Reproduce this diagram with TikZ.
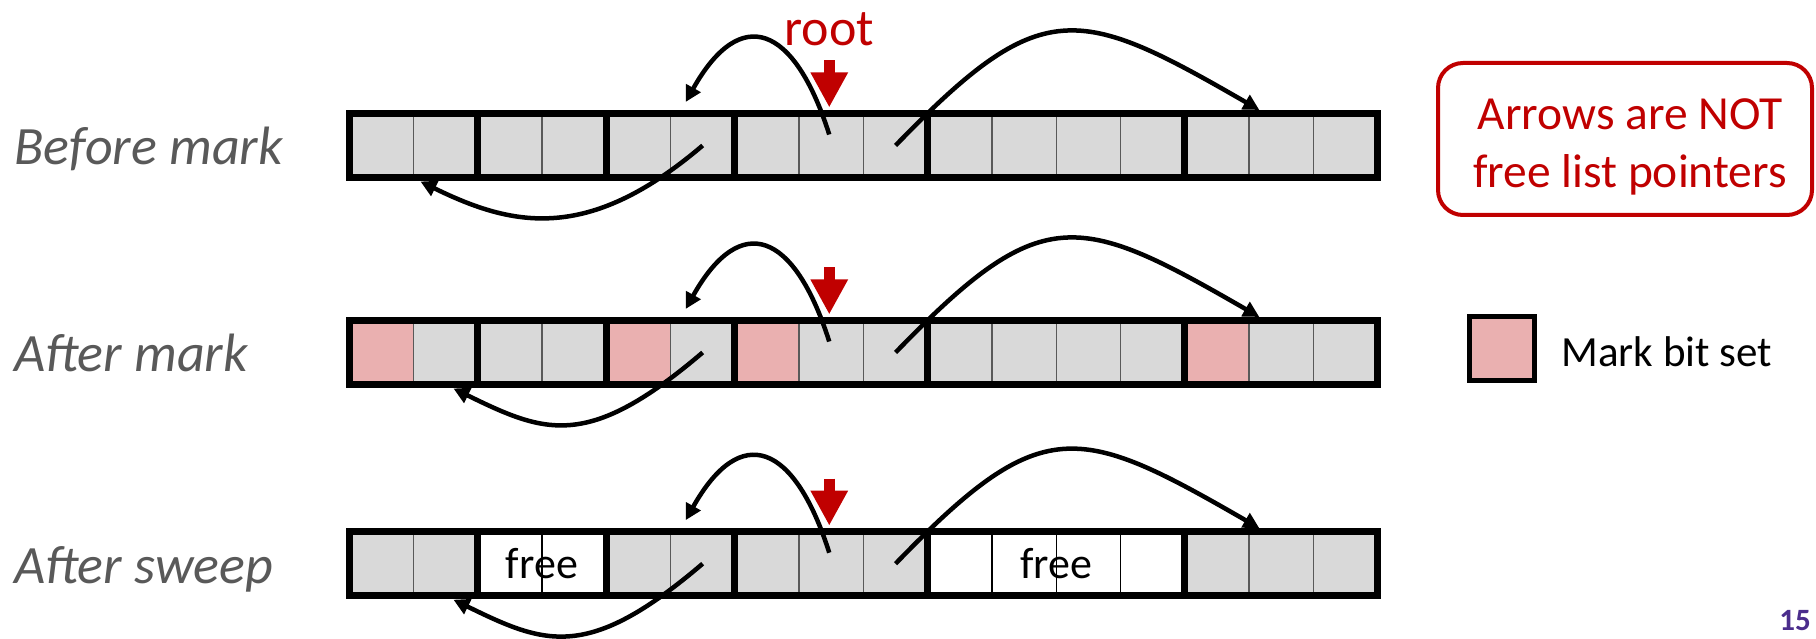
\documentclass[tikz,border=0pt]{standalone}
\usepackage{fontspec}
\setmainfont{Carlito}
\usetikzlibrary{positioning, calc, arrows.meta}

\definecolor{cellgray}{HTML}{D9D9D9}
\definecolor{markpink}{HTML}{EAB0B0}
\definecolor{rootred}{HTML}{C00000}
\definecolor{labelgray}{HTML}{595959}
\definecolor{pagepurple}{RGB}{75,45,140}

\begin{document}
\begin{tikzpicture}[x=1pt, y=1pt,
    cell/.style={draw=black!65, line width=1.5pt, fill=cellgray, minimum width=64.3pt, minimum height=64pt, inner sep=0pt, outer sep=0pt},
    blockline/.style={line width=7pt},
    ptr/.style={line width=4.5pt, -{Triangle[length=16pt, width=16pt]}},
    rootptr/.style={draw=rootred, line width=11.5pt, -{Triangle[length=35pt, width=35pt]}},
    rowlabel/.style={anchor=base west, inner sep=0pt, text=labelgray, font=\fontsize{54}{64}\selectfont\itshape},
    freetext/.style={inner sep=0pt, font=\fontsize{44}{52}\selectfont},
    notetext/.style={inner sep=0pt, align=center, text=rootred, font=\fontsize{47.5}{58}\selectfont}]
    \useasboundingbox (0,0) rectangle (1816,638);
    % the three heaps
    \foreach \r/\y/\lab in {1/524.5/Before mark, 2/317.5/After mark, 3/106.3/After sweep} {
        \node[rowlabel] (lab\r) at (14, \y-51.5) {\lab};
        \foreach \i in {0,...,15}
            \node[cell] (c\r-\i) at (381.15+64.3*\i, \y-32) {};
    }
    \foreach \i in {0,4,6,13}
        \node[cell, fill=markpink] at (c2-\i) {};
    \foreach \i in {2,3,9,10,11,12}
        \node[cell, fill=white, draw=black] at (c3-\i) {};
    \node[freetext] (free1) at ($(c3-2)!0.5!(c3-3)$) {free};
    \node[freetext] (free2) at ($(c3-10)!0.5!(c3-11)$) {free};
    \foreach \r in {1,2,3}
        \foreach \a/\b in {0/1, 2/3, 4/5, 6/8, 9/12, 13/15}
            \draw[blockline] (c\r-\a.north west) rectangle (c\r-\b.south east);
    % pointers
    \foreach \r/\bx in {1/-25, 2/8, 3/8} {
        \coordinate (pa\r) at ($(c\r-7.center)+(-2,11)$);
        \coordinate (qa\r) at ($(c\r-5.north)+(-17,11.5)$);
        \coordinate (qb\r) at ($(c\r-1.south)+(\bx,-4)$);
        \coordinate (qc\r) at ($(c\r-14.north)+(-22,3.5)$);
        \coordinate (rt\r) at ($(c\r-7.north)+(-2,53)$);
        \coordinate (rh\r) at ($(c\r-7.north)+(-2,6)$);
        \draw[ptr] (pa\r) .. controls +(-35,110) and +(55,98) .. (qa\r);
        \draw[ptr] (c\r-5.center) .. controls +(-115,-98) and +(92,-45) .. (qb\r);
        \draw[ptr] (c\r-8.center) .. controls +(146,151) and +(-182,105) .. (qc\r);
        \draw[rootptr] (rt\r) -- (rh\r);
    }
    \node[inner sep=0pt, text=rootred, font=\fontsize{52}{62}\selectfont, above=14pt of rt1] (root) {root};
    % notes
    \node[notetext] (note) at (1630, 491) {Arrows are NOT\\free list pointers};
    \draw[rootred, line width=4pt, rounded corners=25pt] (1438,423) rectangle (1812,575);
    \node[cell, fill=markpink, draw=black, line width=5pt] (legend) at (1502, 289) {};
    \node[inner sep=0pt, font=\fontsize{43}{51}\selectfont, right=27pt of legend, yshift=-3pt] (marktext) {Mark bit set};
    \node[anchor=base east, inner sep=0pt, text=pagepurple, font=\fontsize{31}{37}\selectfont\bfseries] (page) at (1811, 8) {15};
\end{tikzpicture}
\end{document}
